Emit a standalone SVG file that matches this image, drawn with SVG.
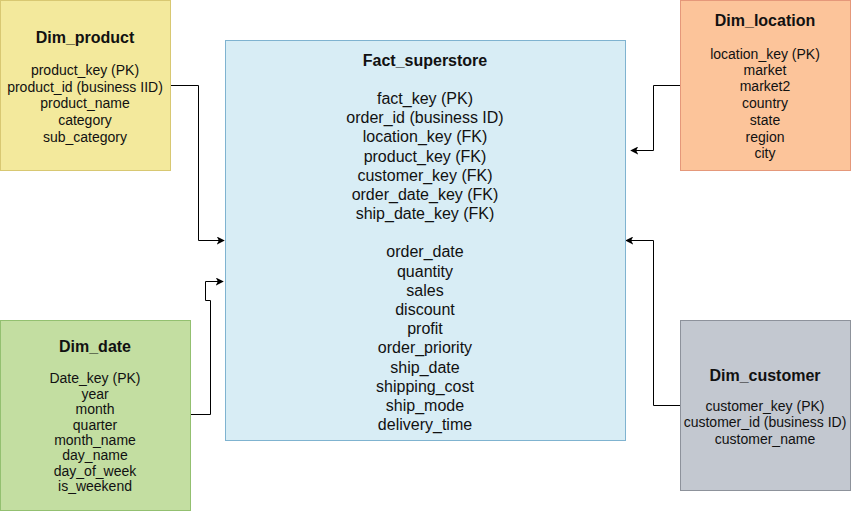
<svg xmlns="http://www.w3.org/2000/svg" width="851" height="511" viewBox="0 0 851 511">
<style>
text{font-family:"Liberation Sans",Arial,Helvetica,sans-serif;fill:#111;text-anchor:middle}
.t{font-weight:bold;font-size:16px}
.f14{font-size:14px}
.f16{font-size:16px}
.edge{fill:none;stroke:#000;stroke-width:1}
</style>
<defs>
<marker id="arr" viewBox="0 0 10 10" refX="9" refY="5" markerWidth="8" markerHeight="8" markerUnits="userSpaceOnUse" orient="auto">
<path d="M0,0 L10,5 L0,10 L2.5,5 Z" fill="#000"/>
</marker>
</defs>
<g id="connectors">
<path class="edge" d="M170.5,85.5 H198.5 V240.5 H224" marker-end="url(#arr)"/>
<path class="edge" d="M680.5,85.5 H653.5 V150.5 H631" marker-end="url(#arr)"/>
<path class="edge" d="M680.5,405.5 H653.5 V240.5 H626" marker-end="url(#arr)"/>
<path class="edge" d="M190.5,414.5 H210.5 V300.5 H205.5 V281.5 H223" marker-end="url(#arr)"/>
</g>
<g id="Fact_superstore">
<rect x="225.5" y="40.5" width="400" height="400" fill="#D8EDF5" stroke="#7FB3D0"/>
<text class="t" x="425" y="65.6">Fact_superstore</text>
<g class="f16">
<text x="425" y="104">fact_key (PK)</text>
<text x="425" y="123.2">order_id (business ID)</text>
<text x="425" y="142.4">location_key (FK)</text>
<text x="425" y="161.6">product_key (FK)</text>
<text x="425" y="180.8">customer_key (FK)</text>
<text x="425" y="200">order_date_key (FK)</text>
<text x="425" y="219.2">ship_date_key (FK)</text>
<text x="425" y="257.3">order_date</text>
<text x="425" y="276.5">quantity</text>
<text x="425" y="295.7">sales</text>
<text x="425" y="314.9">discount</text>
<text x="425" y="334.1">profit</text>
<text x="425" y="353.3">order_priority</text>
<text x="425" y="372.5">ship_date</text>
<text x="425" y="391.7">shipping_cost</text>
<text x="425" y="410.9">ship_mode</text>
<text x="425" y="430.1">delivery_time</text>
</g>
</g>
<g id="Dim_product">
<rect x="0.5" y="0.5" width="170" height="170" fill="#F3E99C" stroke="#D8C872"/>
<text class="t" x="85" y="43">Dim_product</text>
<g class="f14">
<text x="85" y="75">product_key (PK)</text>
<text x="85" y="91.7">product_id (business IID)</text>
<text x="85" y="108.4">product_name</text>
<text x="85" y="125.1">category</text>
<text x="85" y="141.8">sub_category</text>
</g>
</g>
<g id="Dim_location">
<rect x="680.5" y="0.5" width="170" height="170" fill="#FCC49A" stroke="#E5987A"/>
<text class="t" x="765" y="26.3">Dim_location</text>
<g class="f14">
<text x="765" y="59">location_key (PK)</text>
<text x="765" y="74.7">market</text>
<text x="765" y="91.4">market2</text>
<text x="765" y="108.1">country</text>
<text x="765" y="124.8">state</text>
<text x="765" y="141.5">region</text>
<text x="765" y="158.2">city</text>
</g>
</g>
<g id="Dim_date">
<rect x="0.5" y="320.5" width="190" height="190" fill="#C3DEA1" stroke="#93C070"/>
<text class="t" x="95" y="352.3">Dim_date</text>
<g class="f14">
<text x="95" y="383.3">Date_key (PK)</text>
<text x="95" y="398.7">year</text>
<text x="95" y="414.1">month</text>
<text x="95" y="429.5">quarter</text>
<text x="95" y="444.9">month_name</text>
<text x="95" y="460.3">day_name</text>
<text x="95" y="475.7">day_of_week</text>
<text x="95" y="491.1">is_weekend</text>
</g>
</g>
<g id="Dim_customer">
<rect x="680.5" y="320.5" width="170" height="170" fill="#C3C8D0" stroke="#8D929B"/>
<text class="t" x="765" y="380.6">Dim_customer</text>
<g class="f14">
<text x="765" y="410.7">customer_key (PK)</text>
<text x="765" y="427.4">customer_id (business ID)</text>
<text x="765" y="444.1">customer_name</text>
</g>
</g>
</svg>
